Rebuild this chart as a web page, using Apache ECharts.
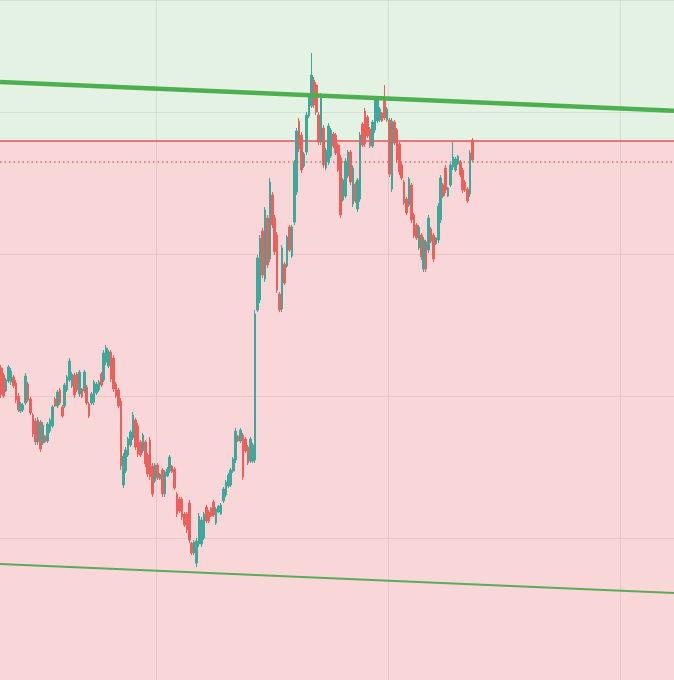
<!DOCTYPE html>
<html>
<head>
<meta charset="utf-8">
<script src="https://cdn.jsdelivr.net/npm/echarts@6/dist/echarts.min.js"></script>
<style>
  html, body { margin: 0; padding: 0; background: #ffffff; }
  #chart { width: 674px; height: 680px; }
</style>
</head>
<body>
<div id="chart"></div>
<script>
// ---- data ----
const totalSlots = 276;               // number of category slots on the time axis (incl. empty future)
const categories = Array.from({ length: totalSlots }, (_, i) => 'T' + (i + 1));

// candles: [open, close, low, high]
const ohlcRows = [
  [31.2,28.6,28.2,31.5],[30.5,28.4,28.2,30.7],[28.9,30.0,28.8,30.2],[29.9,31.3,29.7,31.5],[29.8,30.9,29.5,31.2],
  [30.3,29.4,29.2,30.5],[29.7,28.0,27.7,30.0],[28.4,27.0,26.8,28.7],[26.9,27.6,26.7,27.8],[27.0,27.5,26.8,27.7],
  [27.7,30.4,27.5,30.7],[29.6,28.0,27.8,29.8],[28.1,26.7,26.5,28.3],[26.5,24.6,24.3,26.7],[25.9,23.8,23.5,26.2],
  [23.8,26.0,23.5,26.3],[25.8,23.1,22.8,26.0],[23.7,25.5,23.5,25.8],[24.4,23.8,23.7,24.5],[23.9,25.6,23.7,25.8],
  [24.9,26.0,24.7,26.2],[25.4,27.3,25.2,27.5],[28.1,27.4,27.3,28.3],[27.4,28.8,27.2,29.0],[29.0,27.7,27.5,29.2],
  [27.3,26.4,26.2,27.5],[27.4,29.5,27.2,29.7],[29.0,30.3,28.8,30.5],[30.0,31.9,29.8,32.2],[29.4,30.6,29.2,30.8],
  [30.5,28.5,28.2,30.7],[30.6,29.0,28.8,30.8],[28.6,30.8,28.3,31.0],[29.1,28.3,28.2,29.2],[28.9,30.8,28.7,31.0],
  [29.3,27.7,27.5,29.5],[27.6,26.4,26.2,27.8],[27.7,28.6,27.5,28.8],[27.8,29.8,27.5,30.0],[28.7,29.6,28.5,29.8],
  [29.0,29.8,28.8,30.0],[30.6,29.5,29.3,30.8],[30.0,32.7,29.8,33.0],[31.8,33.2,31.5,33.5],[31.4,32.8,31.2,33.0],
  [32.8,30.1,29.8,33.0],[32.2,29.1,28.8,32.5],[29.6,28.4,28.2,29.8],[29.0,27.4,27.2,29.2],[27.9,21.4,21.0,28.2],
  [19.5,22.4,19.2,22.7],[20.9,23.0,20.7,23.3],[22.5,24.1,22.3,24.3],[23.5,24.8,23.3,25.0],[24.2,26.5,24.0,26.8],
  [26.0,23.3,23.0,26.2],[25.4,22.6,22.3,25.7],[23.8,22.5,22.3,24.0],[22.9,24.5,22.7,24.7],[23.8,21.6,21.3,24.0],
  [22.5,20.6,20.3,22.7],[24.0,20.3,20.0,24.3],[21.4,18.6,18.3,21.7],[19.9,21.5,19.7,21.7],[21.5,20.2,20.0,21.7],
  [20.1,20.6,20.0,20.7],[21.0,18.6,18.3,21.2],[18.6,20.8,18.3,21.0],[20.4,21.1,20.3,21.3],[20.9,22.3,20.7,22.5],
  [21.4,20.8,20.7,21.5],[21.1,19.2,19.0,21.3],[18.6,16.6,16.3,18.8],[18.1,16.9,16.7,18.3],[18.1,16.3,16.0,18.3],
  [16.6,15.5,15.3,16.8],[16.6,15.0,14.7,16.8],[17.7,14.0,13.7,18.0],[13.7,12.7,12.5,13.8],[12.7,13.8,12.5,14.0],
  [11.7,13.9,11.3,14.2],[13.6,16.4,13.3,16.7],[13.6,16.0,13.3,16.3],[14.2,16.6,14.0,16.8],[17.3,15.9,15.7,17.5],
  [16.8,15.9,15.7,17.0],[17.2,16.4,16.3,17.3],[17.8,16.5,16.3,18.0],[15.7,17.1,15.5,17.3],[16.8,17.4,16.7,17.5],
  [16.6,17.5,16.5,17.7],[17.9,19.1,17.7,19.3],[18.5,19.8,18.3,20.0],[19.4,20.5,19.2,20.7],[19.5,21.0,19.3,21.2],
  [20.9,22.1,20.7,22.3],[22.0,24.9,21.7,25.2],[24.4,23.9,23.8,24.5],[23.9,25.0,23.7,25.2],[24.5,20.3,20.0,24.7],
  [24.1,22.9,22.7,24.3],[23.3,21.7,21.5,23.5],[21.9,24.1,21.7,24.3],[21.9,23.5,21.7,23.7],[22.0,36.6,21.7,37.0],
  [37.0,42.2,36.8,42.5],[38.0,44.2,37.7,44.5],[44.9,40.5,40.2,45.2],[40.1,47.0,39.8,47.3],[46.2,41.5,41.2,46.5],
  [42.1,49.8,41.8,50.2],[48.5,45.5,45.2,48.8],[46.2,42.8,42.5,46.5],[44.5,39.0,38.7,44.8],[38.6,37.0,36.8,38.8],
  [37.1,43.2,36.8,43.5],[41.6,39.7,39.5,41.8],[41.4,44.3,41.2,44.5],[45.3,43.0,42.8,45.5],[42.4,45.3,42.2,45.5],
  [45.8,51.7,45.5,52.0],[48.8,54.9,48.5,55.2],[55.9,53.1,52.8,56.2],[54.5,51.0,50.7,54.8],[51.4,52.6,51.2,52.8],
  [52.8,56.5,52.5,56.8],[56.4,58.3,56.2,58.5],[57.4,60.5,57.2,62.7],[60.0,57.5,57.2,60.3],[59.5,56.8,56.5,59.8],
  [56.5,53.8,53.5,56.8],[53.8,58.4,53.5,58.7],[55.2,51.5,51.2,55.5],[51.2,53.0,51.0,53.2],[51.8,55.4,51.5,55.7],
  [52.4,55.0,52.2,55.2],[54.6,53.4,53.2,54.8],[54.5,52.7,52.5,54.7],[53.5,51.0,50.8,53.7],[52.2,46.5,46.2,52.5],
  [48.0,50.0,47.8,50.2],[48.4,51.9,48.2,52.2],[50.4,52.8,50.2,53.0],[52.8,49.8,49.5,53.0],[47.6,51.2,47.3,51.5],
  [49.6,47.9,47.7,49.8],[47.1,50.0,46.8,50.2],[48.1,54.5,47.8,54.8],[55.6,53.5,53.3,55.8],[56.9,53.6,53.3,57.2],
  [56.3,54.4,54.2,56.5],[55.1,53.4,53.2,55.3],[53.4,55.8,53.2,56.0],[55.0,58.0,54.7,58.3],[55.9,58.1,55.7,58.3],
  [56.0,57.1,55.8,57.3],[56.7,55.9,55.8,56.8],[58.0,56.2,56.0,59.5],[56.0,57.1,55.8,57.3],[56.0,50.6,50.3,56.2],
  [49.1,55.9,48.8,56.2],[55.8,53.7,53.5,56.0],[55.0,52.0,51.7,55.2],[53.6,50.8,50.5,53.8],[51.5,50.2,50.0,51.7],
  [49.8,47.7,47.5,50.0],[48.1,46.7,46.5,48.3],[47.5,50.1,47.3,50.3],[49.5,46.0,45.7,49.7],[46.5,44.4,44.2,46.7],
  [45.5,44.2,44.0,45.7],[43.2,45.3,43.0,45.5],[44.5,42.3,42.0,44.7],[41.1,44.0,40.8,44.3],[43.8,41.1,40.8,44.0],
  [43.0,46.2,42.7,46.5],[45.1,43.9,43.7,45.3],[44.5,42.1,41.8,44.7],[43.6,44.2,43.5,44.3],[44.0,47.4,43.7,47.7],
  [46.0,50.2,45.7,50.5],[49.5,48.4,48.2,49.7],[51.2,49.0,48.7,51.5],[48.4,49.2,48.3,49.3],[49.5,51.5,49.3,51.7],
  [51.3,52.3,51.0,53.8],[51.0,52.1,50.8,52.3],[51.6,52.4,51.5,52.5],[51.8,50.5,50.3,52.0],[51.0,49.0,48.7,51.2],
  [49.8,49.0,48.8,50.0],[49.1,47.9,47.7,49.3],[48.6,52.7,48.3,53.0],[54.0,52.0,51.8,54.2]
];

// horizontal levels
const resistanceLevel = 53.93;  // solid red line / zone boundary
const dottedLevel = 51.85;      // dotted red line

// trend lines: value at left edge and right edge
const trendX = [0, 1];
const upperTrend = [59.8, 56.93];
const lowerTrend = [11.6, 8.7];

// axis ranges / grid ticks
const yMin = 0, yMax = 68, yStep = 14.2;
const vGridFirst = 64, vGridStep = 95;

// ---- chart ----
const chart = echarts.init(document.getElementById('chart'), null, { renderer: 'canvas' });

const option = {
  animation: false,
  backgroundColor: '#ffffff',
  grid: { left: 0, right: 0, top: 0, bottom: 0, containLabel: false },
  xAxis: [
    {
      type: 'category',
      data: categories,
      boundaryGap: true,
      z: 1,
      axisLine: { show: false },
      axisTick: { show: false },
      axisLabel: { show: false },
      splitLine: {
        show: true,
        interval: (idx) => idx >= vGridFirst && (idx - vGridFirst) % vGridStep === 0,
        lineStyle: { color: 'rgba(110,110,110,0.13)', width: 1 }
      }
    },
    {
      type: 'value',
      min: 0, max: 1,
      show: false
    }
  ],
  yAxis: {
    type: 'value',
    min: yMin, max: yMax, interval: yStep,
    z: 1,
    axisLine: { show: false },
    axisTick: { show: false },
    axisLabel: { show: false },
    splitLine: { show: true, lineStyle: { color: 'rgba(110,110,110,0.13)', width: 1 } }
  },
  series: [
    {
      name: 'price',
      type: 'candlestick',
      xAxisIndex: 0,
      data: ohlcRows,
      barWidth: '85%',
      z: 2,
      itemStyle: {
        color: '#3fa89b',
        color0: '#e9605c',
        borderColor: '#3fa89b',
        borderColor0: '#e9605c',
        borderWidth: 1
      },
      markArea: {
        silent: true,
        z: 0,
        data: [
          [{ yAxis: resistanceLevel, itemStyle: { color: '#e4f2e3' } }, { yAxis: yMax }],
          [{ yAxis: yMin, itemStyle: { color: '#f9d6d7' } }, { yAxis: resistanceLevel }]
        ]
      },
      markLine: {
        silent: true,
        symbol: 'none',
        label: { show: false },
        z: 1,
        data: [
          { yAxis: resistanceLevel, lineStyle: { color: '#e0544f', width: 1.5, type: 'solid' } },
          { yAxis: dottedLevel, lineStyle: { color: '#d2706c', width: 1.5, type: [1.5, 3] } }
        ]
      }
    },
    {
      name: 'upper trend',
      type: 'line',
      xAxisIndex: 1,
      z: 3,
      symbol: 'none',
      silent: true,
      data: trendX.map((x, i) => [x, upperTrend[i]]),
      lineStyle: { color: '#4caf50', width: 4.5 }
    },
    {
      name: 'lower trend',
      type: 'line',
      xAxisIndex: 1,
      z: 3,
      symbol: 'none',
      silent: true,
      data: trendX.map((x, i) => [x, lowerTrend[i]]),
      lineStyle: { color: '#5aab5a', width: 2.2 }
    }
  ]
};

chart.setOption(option);
</script>
</body>
</html>
